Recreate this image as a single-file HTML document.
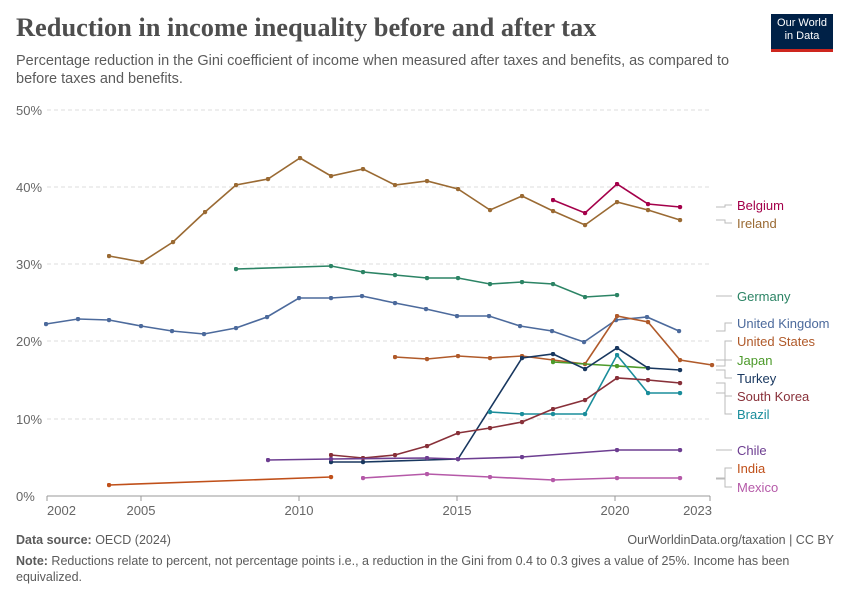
<!DOCTYPE html>
<html><head><meta charset="utf-8"><style>
body{margin:0;background:#fff;font-family:"Liberation Sans",sans-serif;}
.wrap{position:relative;width:850px;height:600px;overflow:hidden;}
h1{position:absolute;left:16px;top:12px;margin:0;font-family:"Liberation Serif",serif;font-size:26.4px;font-weight:bold;color:#4e4e4e;}
.sub{position:absolute;left:16px;top:52px;width:740px;font-size:14.5px;line-height:18px;color:#5b5b5b;}
.logo{position:absolute;left:771px;top:14px;width:62px;height:38px;background:#002147;color:#fff;font-size:11px;line-height:13px;text-align:center;padding-top:3px;box-sizing:border-box;border-bottom:3px solid #ce261e;}
.foot{position:absolute;font-size:12.5px;color:#5b5b5b;}
</style></head><body><div class="wrap">
<h1>Reduction in income inequality before and after tax</h1>
<div class="sub">Percentage reduction in the Gini coefficient of income when measured after taxes and benefits, as compared to before taxes and benefits.</div>
<div class="logo">Our World<br>in Data</div>
<svg width="850" height="600" style="position:absolute;left:0;top:0" font-family="Liberation Sans, sans-serif">
<defs>
<marker id="m" viewBox="0 0 6 6" refX="3" refY="3" markerWidth="4.5" markerHeight="4.5" markerUnits="userSpaceOnUse"><circle cx="3" cy="3" r="3" fill="context-stroke"/></marker>
</defs>
<g stroke="#ddd" stroke-dasharray="4,3" stroke-width="1">
<line x1="47" x2="710" y1="110" y2="110"/><line x1="47" x2="710" y1="187" y2="187"/><line x1="47" x2="710" y1="264" y2="264"/><line x1="47" x2="710" y1="341" y2="341"/><line x1="47" x2="710" y1="419" y2="419"/>
</g>
<line x1="47" x2="710" y1="496" y2="496" stroke="#999"/>
<g stroke="#999"><line x1="47" x2="47" y1="496" y2="501"/><line x1="141" x2="141" y1="496" y2="501"/><line x1="299" x2="299" y1="496" y2="501"/><line x1="457" x2="457" y1="496" y2="501"/><line x1="615" x2="615" y1="496" y2="501"/><line x1="710" x2="710" y1="496" y2="501"/></g>
<g font-size="13" fill="#666">
<text x="16" y="115">50%</text><text x="16" y="192">40%</text><text x="16" y="269">30%</text><text x="16" y="346">20%</text><text x="16" y="424">10%</text><text x="16" y="501">0%</text>
<text x="47" y="515">2002</text><text x="141" y="515" text-anchor="middle">2005</text><text x="299" y="515" text-anchor="middle">2010</text><text x="457" y="515" text-anchor="middle">2015</text><text x="615" y="515" text-anchor="middle">2020</text><text x="712" y="515" text-anchor="end">2023</text>
</g>
<g fill="none" stroke-width="1.6" marker-start="url(#m)" marker-mid="url(#m)" marker-end="url(#m)">
<polyline stroke="#9a6a33" points="109,256 142,262 173,242 205,212 236,185 268,179 300,158 331,176 363,169 395,185 427,181 458,189 490,210 522,196 553,211 585,225 617,202 648,210 680,220"/>
<polyline stroke="#a4004a" points="553,200 585,213 617,184 648,204 680,207"/>
<polyline stroke="#2c8465" points="236,269 331,266 363,272 395,275 427,278 458,278 490,284 522,282 553,284 585,297 617,295"/>
<polyline stroke="#4c6a9c" points="46,324 78,319 109,320 141,326 172,331 204,334 236,328 267,317 299,298 331,298 362,296 395,303 426,309 457,316 489,316 520,326 552,331 584,342 616,320 647,317 679,331"/>
<polyline stroke="#b05a2a" points="395,357 427,359 458,356 490,358 522,356 553,360 585,364 617,316 648,322 680,360 712,365"/>
<polyline stroke="#4c9a2a" points="553,362 617,366 648,368"/>
<polyline stroke="#18375f" points="331,462 363,462 458,459 522,358 553,354 585,369 617,348 648,368 680,370"/>
<polyline stroke="#1a8d9b" points="490,412 522,414 553,414 585,414 617,355 648,393 680,393"/>
<polyline stroke="#883039" points="331,455 363,458 395,455 427,446 458,433 490,428 522,422 553,409 585,400 617,378 648,380 680,383"/>
<polyline stroke="#6d3e91" points="268,460 331,459 427,458 458,459 522,457 617,450 680,450"/>
<polyline stroke="#c0501a" points="109,485 331,477"/>
<polyline stroke="#b559a8" points="363,478 427,474 490,477 553,480 617,478 680,478"/>
</g>
<g stroke="#bbb" fill="none" stroke-width="1">
<polyline points="716,207 725,207 725,205 732,205"/><polyline points="716,220 725,220 725,223 732,223"/>
<line x1="716" x2="732" y1="296" y2="296"/>
<polyline points="716,331 725,331 725,323 732,323"/><polyline points="716,360 725,360 725,341 732,341"/>
<polyline points="716,366 725,366 725,360 732,360"/><polyline points="716,370 725,370 725,378 732,378"/>
<polyline points="716,383 725,383 725,396 732,396"/><polyline points="716,393 725,393 725,414 732,414"/>
<line x1="716" x2="732" y1="450" y2="450"/>
<polyline points="716,478 725,478 725,468 732,468"/><polyline points="716,479 725,479 725,487 732,487"/>
</g>
<g font-size="13">
<text x="737" y="210" fill="#a4004a">Belgium</text><text x="737" y="228" fill="#9a6a33">Ireland</text>
<text x="737" y="301" fill="#2c8465">Germany</text><text x="737" y="328" fill="#4c6a9c">United Kingdom</text>
<text x="737" y="346" fill="#b05a2a">United States</text><text x="737" y="365" fill="#4c9a2a">Japan</text>
<text x="737" y="383" fill="#18375f">Turkey</text><text x="737" y="401" fill="#883039">South Korea</text>
<text x="737" y="419" fill="#1a8d9b">Brazil</text><text x="737" y="455" fill="#6d3e91">Chile</text>
<text x="737" y="473" fill="#c0501a">India</text><text x="737" y="492" fill="#b559a8">Mexico</text>
</g>
</svg>
<div class="foot" style="left:16px;top:533px;"><b>Data source:</b> OECD (2024)</div>
<div class="foot" style="right:16px;top:533px;">OurWorldinData.org/taxation | CC BY</div>
<div class="foot" style="left:16px;top:553px;width:800px;line-height:16px;"><b>Note:</b> Reductions relate to percent, not percentage points i.e., a reduction in the Gini from 0.4 to 0.3 gives a value of 25%. Income has been equivalized.</div>
</div></body></html>
